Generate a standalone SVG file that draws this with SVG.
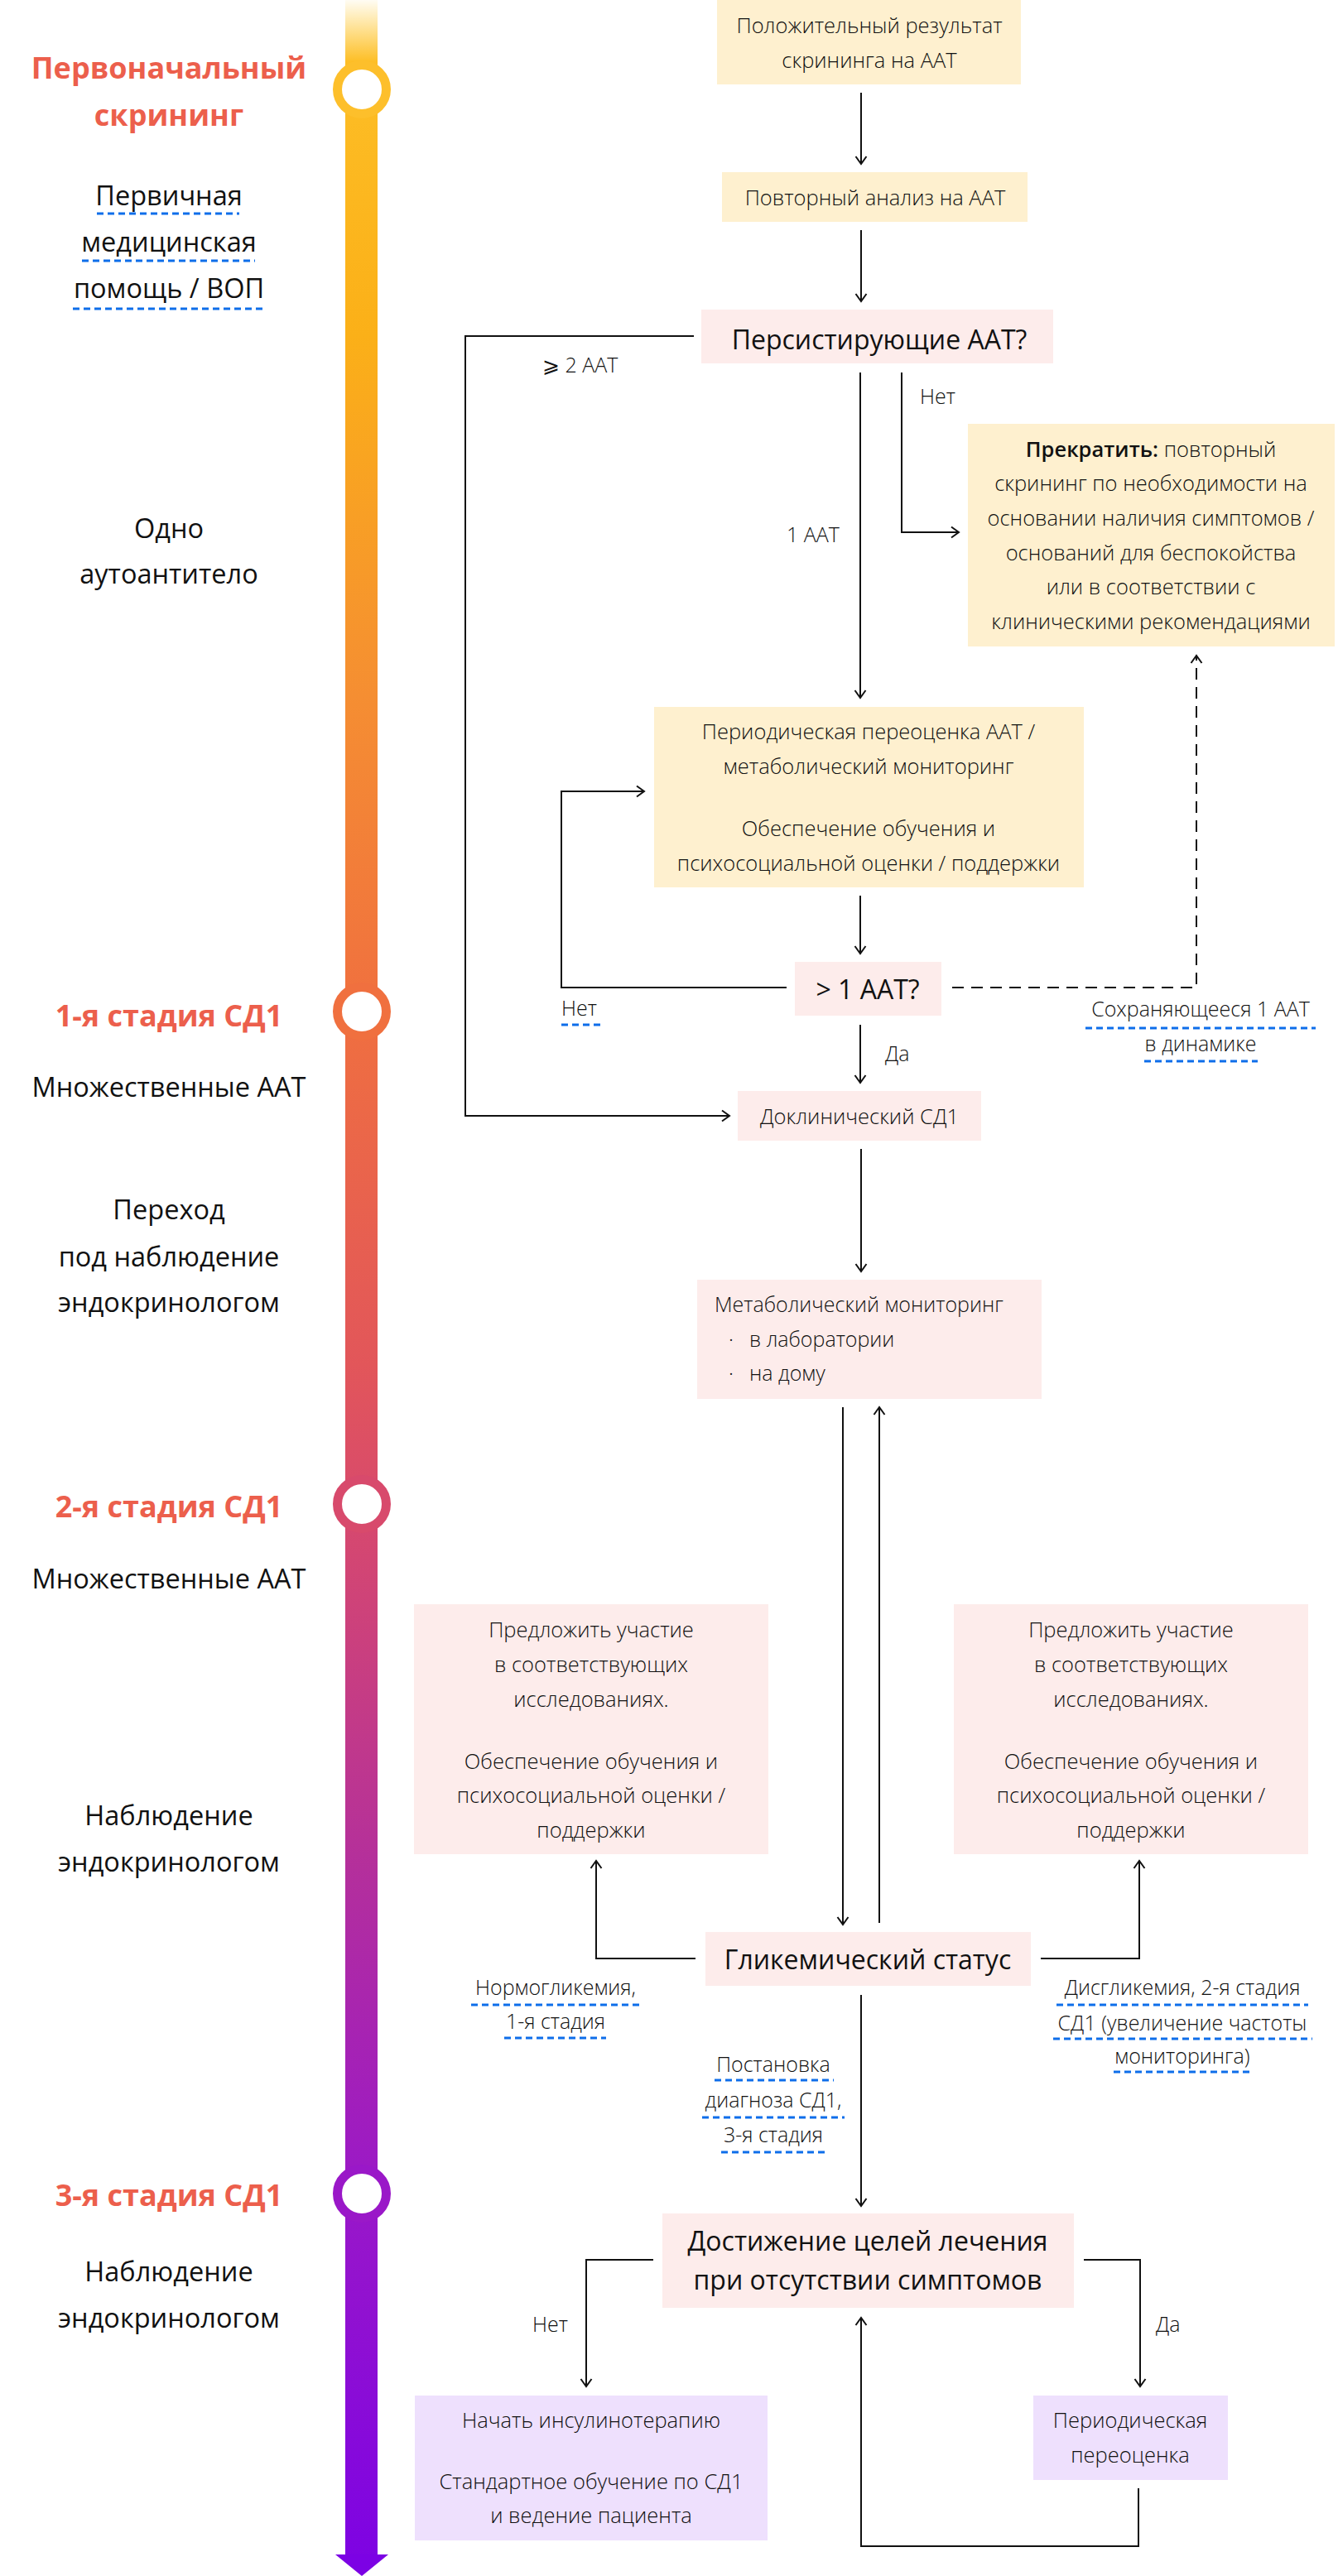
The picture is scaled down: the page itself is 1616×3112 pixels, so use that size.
<svg xmlns="http://www.w3.org/2000/svg" width="1616" height="3112" viewBox="0 0 1616 3112">
<style>
text{font-family:"Open Sans","Liberation Sans",sans-serif;fill:#111}
.lbl{font-size:32.5px;text-anchor:middle}
.stage{font-size:36px;font-weight:700;fill:#EC5F4C;text-anchor:middle}
.bx{font-size:25.5px;font-weight:300;text-anchor:middle}
.big{font-size:32px;font-weight:400;text-anchor:middle}
.cl{font-size:25px;font-weight:300}
.clm{font-size:25px;font-weight:300;text-anchor:middle}
.y{fill:#FEF0CF}.p{fill:#FDECEB}.v{fill:#EEE0FD}
.c{fill:none;stroke:#111;stroke-width:2}
.d{fill:none;stroke:#111;stroke-width:2;stroke-dasharray:14 9}
.u{stroke:#0E6EEA;stroke-width:3;stroke-dasharray:8 5}
</style>
<defs>
<linearGradient id="tl" gradientUnits="userSpaceOnUse" x1="0" y1="0" x2="0" y2="3112">
<stop offset="0" stop-color="#FFC51F" stop-opacity="0.05"/>
<stop offset="0.024" stop-color="#FDBE26" stop-opacity="1"/>
<stop offset="0.13" stop-color="#FBB018"/>
<stop offset="0.27" stop-color="#F58E32"/>
<stop offset="0.39" stop-color="#F0703F"/>
<stop offset="0.53" stop-color="#E2565A"/>
<stop offset="0.584" stop-color="#D84A6C"/>
<stop offset="0.72" stop-color="#B5309A"/>
<stop offset="0.85" stop-color="#9A18C8"/>
<stop offset="1" stop-color="#7C02E4"/>
</linearGradient>
<marker id="ah" markerUnits="userSpaceOnUse" markerWidth="20" markerHeight="20" refX="10" refY="10" orient="auto">
<path d="M1,3.5 L10,10 L1,16.5" fill="none" stroke="#111" stroke-width="2"/>
</marker>
</defs>

<g id="timeline">
<rect x="417" y="0" width="39" height="3088" fill="url(#tl)"/>
<path d="M405,3086 L469,3086 L437,3112 Z" fill="#7C02E4"/>
<circle cx="437" cy="108" r="29.5" fill="#fff" stroke="#FDBF2B" stroke-width="11"/>
<circle cx="437" cy="1222" r="29.5" fill="#fff" stroke="#F0703F" stroke-width="11"/>
<circle cx="437" cy="1817" r="29.5" fill="#fff" stroke="#D84A6C" stroke-width="11"/>
<circle cx="437" cy="2650" r="29.5" fill="#fff" stroke="#9A18C8" stroke-width="11"/>
</g>

<g id="stage-labels">
<text class="stage" x="204" y="95">Первоначальный</text>
<text class="stage" x="204" y="152">скрининг</text>
<text class="lbl" x="204" y="248">Первичная</text>
<line class="u" x1="117" y1="258" x2="289" y2="258"/>
<text class="lbl" x="204" y="304">медицинская</text>
<line class="u" x1="99" y1="315" x2="308" y2="315"/>
<text class="lbl" x="204" y="360">помощь / ВОП</text>
<line class="u" x1="88" y1="373" x2="317" y2="373"/>
<text class="lbl" x="204" y="650">Одно</text>
<text class="lbl" x="204" y="705">аутоантитело</text>
<text class="stage" x="204" y="1240">1-я стадия СД1</text>
<text class="lbl" x="204" y="1325">Множественные ААТ</text>
<text class="lbl" x="204" y="1473">Переход</text>
<text class="lbl" x="204" y="1530">под наблюдение</text>
<text class="lbl" x="204" y="1585">эндокринологом</text>
<text class="stage" x="204" y="1833">2-я стадия СД1</text>
<text class="lbl" x="204" y="1919">Множественные ААТ</text>
<text class="lbl" x="204" y="2205">Наблюдение</text>
<text class="lbl" x="204" y="2261">эндокринологом</text>
<text class="stage" x="204" y="2665">3-я стадия СД1</text>
<text class="lbl" x="204" y="2756">Наблюдение</text>
<text class="lbl" x="204" y="2812">эндокринологом</text>
</g>

<g id="n-positive">
<rect class="y" x="866" y="0" width="367" height="102"/>
<text class="bx" x="1050" y="40">Положительный результат</text>
<text class="bx" x="1050" y="82">скрининга на ААТ</text>
</g>
<g id="n-repeat">
<rect class="y" x="872" y="208" width="369" height="60"/>
<text class="bx" x="1057" y="248">Повторный анализ на ААТ</text>
</g>
<g id="n-persist">
<rect class="p" x="847" y="374" width="425" height="65"/>
<text class="big" x="1062" y="422">Персистирующие ААТ?</text>
</g>
<g id="n-stop">
<rect class="y" x="1169" y="512" width="443" height="269"/>
<text class="bx" x="1390" y="552"><tspan font-weight="600">Прекратить:</tspan> повторный</text>
<text class="bx" x="1390" y="593">скрининг по необходимости на</text>
<text class="bx" x="1390" y="635">основании наличия симптомов /</text>
<text class="bx" x="1390" y="677">оснований для беспокойства</text>
<text class="bx" x="1390" y="718">или в соответствии с</text>
<text class="bx" x="1390" y="760">клиническими рекомендациями</text>
</g>
<g id="n-periodic">
<rect class="y" x="790" y="854" width="519" height="218"/>
<text class="bx" x="1049" y="893">Периодическая переоценка ААТ /</text>
<text class="bx" x="1049" y="935">метаболический мониторинг</text>
<text class="bx" x="1049" y="1010">Обеспечение обучения и</text>
<text class="bx" x="1049" y="1052">психосоциальной оценки / поддержки</text>
</g>
<g id="n-more1">
<rect class="p" x="960" y="1162" width="177" height="65"/>
<text class="big" x="1048" y="1207">&gt; 1 ААТ?</text>
</g>
<g id="n-preclinical">
<rect class="p" x="891" y="1318" width="294" height="60"/>
<text class="bx" x="1038" y="1358">Доклинический СД1</text>
</g>
<g id="n-metabolic">
<rect class="p" x="842" y="1546" width="416" height="144"/>
<text class="cl" x="863" y="1585">Метаболический мониторинг</text>
<text class="cl" x="880" y="1627">·</text>
<text class="cl" x="905" y="1627">в лаборатории</text>
<text class="cl" x="880" y="1668">·</text>
<text class="cl" x="905" y="1668">на дому</text>
</g>
<g id="n-trials-left">
<rect class="p" x="500" y="1938" width="428" height="302"/>
<text class="bx" x="714" y="1978">Предложить участие</text>
<text class="bx" x="714" y="2020">в соответствующих</text>
<text class="bx" x="714" y="2062">исследованиях.</text>
<text class="bx" x="714" y="2137">Обеспечение обучения и</text>
<text class="bx" x="714" y="2178">психосоциальной оценки /</text>
<text class="bx" x="714" y="2220">поддержки</text>
</g>
<g id="n-trials-right">
<rect class="p" x="1152" y="1938" width="428" height="302"/>
<text class="bx" x="1366" y="1978">Предложить участие</text>
<text class="bx" x="1366" y="2020">в соответствующих</text>
<text class="bx" x="1366" y="2062">исследованиях.</text>
<text class="bx" x="1366" y="2137">Обеспечение обучения и</text>
<text class="bx" x="1366" y="2178">психосоциальной оценки /</text>
<text class="bx" x="1366" y="2220">поддержки</text>
</g>
<g id="n-glycemic">
<rect class="p" x="852" y="2334" width="393" height="65"/>
<text class="big" x="1048" y="2379">Гликемический статус</text>
</g>
<g id="n-goals">
<rect class="p" x="800" y="2674" width="497" height="114"/>
<text class="big" x="1048" y="2719">Достижение целей лечения</text>
<text class="big" x="1048" y="2766">при отсутствии симптомов</text>
</g>
<g id="n-insulin">
<rect class="v" x="501" y="2894" width="426" height="175"/>
<text class="bx" x="714" y="2933">Начать инсулинотерапию</text>
<text class="bx" x="714" y="3007">Стандартное обучение по СД1</text>
<text class="bx" x="714" y="3048">и ведение пациента</text>
</g>
<g id="n-reassess">
<rect class="v" x="1248" y="2894" width="235" height="102"/>
<text class="bx" x="1365" y="2933">Периодическая</text>
<text class="bx" x="1365" y="2975">переоценка</text>
</g>

<g id="connectors">
<path class="c" d="M1040,112 V198" marker-end="url(#ah)"/>
<path class="c" d="M1040,278 V364" marker-end="url(#ah)"/>
<path class="c" d="M838,406 H562 V1348 H881" marker-end="url(#ah)"/>
<path class="c" d="M1039,450 V843" marker-end="url(#ah)"/>
<path class="c" d="M1089,450 V643 H1158" marker-end="url(#ah)"/>
<path class="c" d="M1039,1082 V1152" marker-end="url(#ah)"/>
<path class="c" d="M950,1193 H678 V956 H778" marker-end="url(#ah)"/>
<path class="d" d="M1150,1193 H1445 V792" marker-end="url(#ah)"/>
<path class="c" d="M1039,1238 V1308" marker-end="url(#ah)"/>
<path class="c" d="M1040,1388 V1536" marker-end="url(#ah)"/>
<path class="c" d="M1018,1700 V2325" marker-end="url(#ah)"/>
<path class="c" d="M1062,2323 V1700" marker-end="url(#ah)"/>
<path class="c" d="M840,2366 H720 V2248" marker-end="url(#ah)"/>
<path class="c" d="M1257,2366 H1376 V2248" marker-end="url(#ah)"/>
<path class="c" d="M1040,2410 V2665" marker-end="url(#ah)"/>
<path class="c" d="M789,2730 H708 V2883" marker-end="url(#ah)"/>
<path class="c" d="M1309,2730 H1377 V2883" marker-end="url(#ah)"/>
<path class="c" d="M1375,3006 V3076 H1040 V2800" marker-end="url(#ah)"/>
</g>

<g id="connector-labels">
<text class="cl" x="655" y="450">⩾ 2 ААТ</text>
<text class="cl" x="1111" y="488">Нет</text>
<text class="cl" x="950" y="655">1 ААТ</text>
<text class="cl" x="678" y="1227">Нет</text>
<line class="u" x1="678" y1="1238" x2="725" y2="1238"/>
<text class="clm" x="1450" y="1228">Сохраняющееся 1 ААТ</text>
<line class="u" x1="1311" y1="1242" x2="1589" y2="1242"/>
<text class="clm" x="1450" y="1270">в динамике</text>
<line class="u" x1="1382" y1="1282" x2="1519" y2="1282"/>
<text class="cl" x="1069" y="1282">Да</text>
<text class="clm" x="671" y="2410">Нормогликемия,</text>
<line class="u" x1="569" y1="2422" x2="774" y2="2422"/>
<text class="clm" x="671" y="2451">1-я стадия</text>
<line class="u" x1="609" y1="2462" x2="732" y2="2462"/>
<text class="clm" x="1428" y="2410">Дисгликемия, 2-я стадия</text>
<line class="u" x1="1276" y1="2422" x2="1580" y2="2422"/>
<text class="clm" x="1428" y="2453">СД1 (увеличение частоты</text>
<line class="u" x1="1272" y1="2463" x2="1585" y2="2463"/>
<text class="clm" x="1428" y="2493">мониторинга)</text>
<line class="u" x1="1345" y1="2503" x2="1513" y2="2503"/>
<text class="clm" x="934" y="2503">Постановка</text>
<line class="u" x1="863" y1="2513" x2="1007" y2="2513"/>
<text class="clm" x="934" y="2546">диагноза СД1,</text>
<line class="u" x1="848" y1="2558" x2="1020" y2="2558"/>
<text class="clm" x="934" y="2588">3-я стадия</text>
<line class="u" x1="871" y1="2600" x2="997" y2="2600"/>
<text class="cl" x="643" y="2817">Нет</text>
<text class="cl" x="1396" y="2817">Да</text>
</g>
</svg>
